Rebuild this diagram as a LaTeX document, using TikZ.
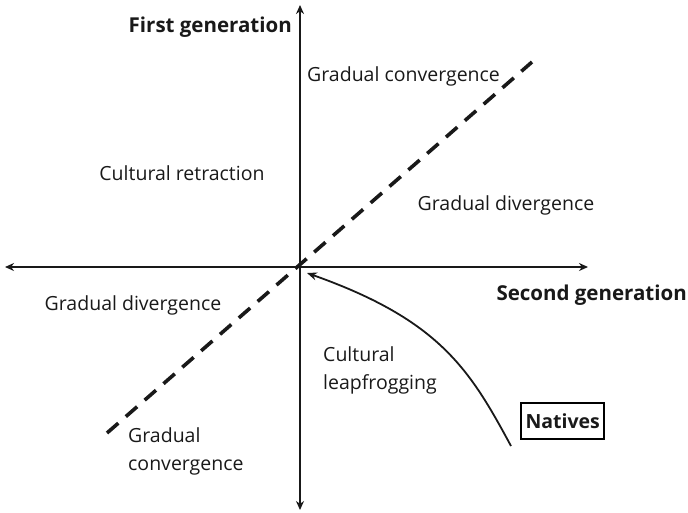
\documentclass[tikz,border=0pt]{standalone}
\usepackage{fontspec}
\setmainfont{Open Sans}
\usetikzlibrary{arrows.meta}
\begin{document}
\begin{tikzpicture}[x=1pt,y=-1pt,
  axis/.style={line width=2.6pt,color=black!90,-{Stealth[length=9pt,width=8pt]}},
  diag/.style={line width=3.6pt,color=black!90,dash pattern=on 15pt off 10pt},
  lbl/.style={inner sep=0pt,font=\fontsize{19.5}{28}\selectfont,text=black!90},
  blbl/.style={inner sep=0pt,font=\fontsize{20.5}{28}\selectfont\bfseries,text=black!90},
  boxlbl/.style={draw,line width=2pt,inner xsep=4.5pt,minimum height=36pt,font=\fontsize{19.5}{28}\selectfont\bfseries,text=black!90}]
\useasboundingbox (0,0) rectangle (688,512);
\coordinate (O) at (300,267);
\coordinate (L) at (5,267);
\coordinate (R) at (588,267);
\coordinate (T) at (300,5);
\coordinate (B) at (300,510);
\coordinate (D1) at (107,433);
\coordinate (D2) at (532,62);
\coordinate (C1) at (511,446);
\coordinate (tip) at (307,273);
\draw[diag] (D1) -- (D2);
\draw[axis] (O) -- (L);
\draw[axis] (O) -- (R);
\draw[axis] (O) -- (T);
\draw[axis] (O) -- (B);
\draw[line width=1.8pt,color=black!90,-{Stealth[length=10pt,width=8pt]}] (C1) .. controls (470,370) and (440,320) .. (tip);
\node[blbl,anchor=east] (fg) at (292,27) {First generation};
\node[blbl,anchor=east] (sg) at (687,295) {Second generation};
\node[lbl,anchor=base west] (gc1) at (307,81) {Gradual convergence};
\node[lbl] (cr) at (182,173) {Cultural retraction};
\node[lbl] (gd1) at (506,205) {Gradual divergence};
\node[lbl] (gd2) at (133,305) {Gradual divergence};
\node[lbl,anchor=west,align=left] (cl) at (323,370) {Cultural\\leapfrogging};
\node[lbl,anchor=west,align=left] (gc2) at (128,451) {Gradual\\convergence};
\node[boxlbl,anchor=north west] (nat) at (520,402) {Natives};
\end{tikzpicture}
\end{document}
